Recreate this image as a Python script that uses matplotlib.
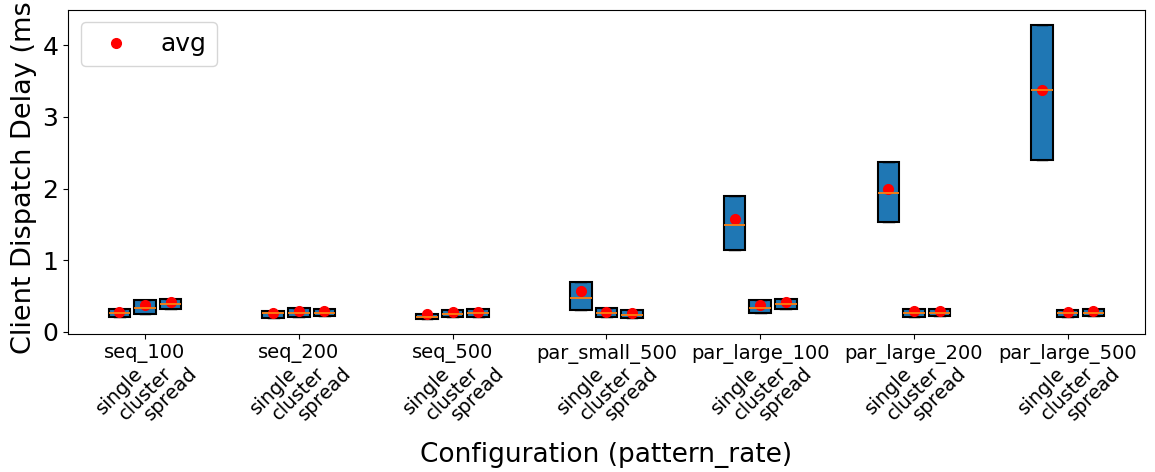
import matplotlib
matplotlib.use('Agg')
import matplotlib.pyplot as plt

groups = ['seq_100', 'seq_200', 'seq_500', 'par_small_500',
          'par_large_100', 'par_large_200', 'par_large_500']
strategies = ['single', 'cluster', 'spread']

# per group: [single, cluster, spread]
q1 = [[0.21, 0.25, 0.32], [0.19, 0.21, 0.22], [0.17, 0.20, 0.21],
      [0.305, 0.21, 0.19], [1.14, 0.26, 0.32], [1.53, 0.20, 0.22],
      [2.40, 0.20, 0.22]]
med = [[0.26, 0.33, 0.39], [0.26, 0.26, 0.26], [0.20, 0.245, 0.26],
       [0.47, 0.26, 0.23], [1.49, 0.33, 0.39], [1.94, 0.26, 0.26],
       [3.37, 0.26, 0.26]]
q3 = [[0.32, 0.44, 0.46], [0.29, 0.33, 0.32], [0.245, 0.305, 0.32],
      [0.69, 0.33, 0.30], [1.89, 0.435, 0.46], [2.365, 0.32, 0.32],
      [4.29, 0.305, 0.32]]
avg = [[0.28, 0.375, 0.41], [0.255, 0.29, 0.29], [0.25, 0.27, 0.28],
       [0.57, 0.28, 0.255], [1.58, 0.37, 0.41], [2.0, 0.29, 0.29],
       [3.37, 0.27, 0.29]]

offsets = [-1 / 6, 0, 1 / 6]

stats, positions, avg_x, avg_y, sub_labels = [], [], [], [], []
for i in range(len(groups)):
    for j, s in enumerate(strategies):
        stats.append(dict(q1=q1[i][j], med=med[i][j], q3=q3[i][j],
                          whislo=q1[i][j], whishi=q3[i][j], fliers=[]))
        positions.append(i + offsets[j])
        avg_x.append(i + offsets[j])
        avg_y.append(avg[i][j])
        sub_labels.append(s)

fig, ax = plt.subplots(figsize=(11.55, 4.72), dpi=100)
ax.bxp(stats, positions=positions, widths=0.14, patch_artist=True,
       showfliers=False, boxprops=dict(linewidth=1.5),
       medianprops=dict(linewidth=1.3))
ax.plot(avg_x, avg_y, 'ro', markersize=7, label='avg')

ax.set_xlim(-0.5, len(groups) - 0.5)
ax.xaxis.remove_overlapping_locs = False
ax.set_xticks(range(len(groups)))
ax.set_xticklabels(groups, fontsize=14)
ax.set_xticks(positions, minor=True)
ax.set_xticklabels(sub_labels, minor=True, rotation=45, fontsize=14)
ax.tick_params(axis='x', which='minor', length=0, pad=21)
ax.tick_params(axis='y', labelsize=18)

ax.set_xlabel('Configuration (pattern_rate)', fontsize=19, labelpad=13)
ax.set_ylabel('Client Dispatch Delay (ms)', fontsize=19.5)
ax.legend(loc='upper left', fontsize=18)

plt.subplots_adjust(left=0.059, right=0.991, top=0.979, bottom=0.292)
plt.savefig('out.png')
